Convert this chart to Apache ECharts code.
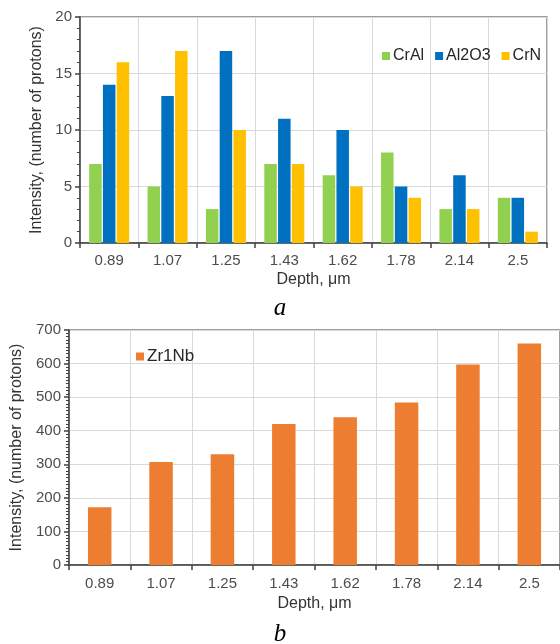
<!DOCTYPE html>
<html>
<head>
<meta charset="utf-8">
<script src="https://cdn.jsdelivr.net/npm/echarts@6/dist/echarts.min.js"></script>
<style>
html,body{margin:0;padding:0;background:#fff;}
#c{width:560px;height:644px;}
</style>
</head>
<body>
<div id="c"></div>
<script>
var categories = ['0.89','1.07','1.25','1.43','1.62','1.78','2.14','2.5'];
var crAl  = [7, 5, 3, 7, 6, 8, 3, 4];
var al2o3 = [14, 13, 17, 11, 10, 5, 6, 4];
var crN   = [16, 17, 10, 7, 5, 4, 3, 1];
var zr1nb = [172, 307, 330, 420, 440, 484, 597, 660];

var FONT = '"Liberation Sans", Arial, sans-serif';
var axisGray = '#4d4d4d';
var gridGray = '#d9d9d9';

var chart = echarts.init(document.getElementById('c'), null, {renderer:'canvas'});

function xAx(gridIndex, fs, nameGap, labelMargin){
  return {
    type:'category', gridIndex:gridIndex, data:categories,
    name:'Depth, μm', nameLocation:'middle', nameGap:nameGap,
    nameTextStyle:{color:'#333', fontSize:16, fontFamily:FONT},
    axisLine:{lineStyle:{color:'#404040', width:1.5}},
    axisTick:{show:true, length:5, inside:false, lineStyle:{color:'#404040', width:1.5}},
    axisLabel:{color:axisGray, fontSize:fs, fontFamily:FONT, margin:labelMargin},
    splitLine:{show:true, lineStyle:{color:gridGray, width:1}}
  };
}
function yAx(gridIndex, max, interval, minorSplit, fs, nameGap){
  return {
    type:'value', gridIndex:gridIndex, min:0, max:max, interval:interval,
    name:'Intensity, (number of protons)', nameLocation:'middle', nameGap:nameGap,
    nameRotate:90,
    nameTextStyle:{color:'#333', fontSize:16, fontFamily:FONT},
    axisLine:{show:true, lineStyle:{color:'#404040', width:1.5}},
    axisTick:{show:true, length:5, lineStyle:{color:'#404040', width:1.5}},
    minorTick:{show:true, splitNumber:minorSplit, length:3, lineStyle:{color:'#404040', width:1}},
    axisLabel:{color:axisGray, fontSize:fs, fontFamily:FONT, margin:8},
    splitLine:{show:true, lineStyle:{color:gridGray, width:1}}
  };
}

chart.setOption({
  animation:false,
  backgroundColor:'#fff',
  grid:[
    {left:80, right:13, top:17, bottom:401, show:true, borderColor:'#7f7f7f', borderWidth:1.5,
     containLabel:false, outerBoundsMode:'none'},
    {left:69, right:0, top:330, bottom:79, show:true, borderColor:'#7f7f7f', borderWidth:1.5,
     containLabel:false, outerBoundsMode:'none'}
  ],
  legend:[
    {data:['CrAl','Al2O3','CrN'], left:377, top:43, itemWidth:8, itemHeight:8, itemGap:11,
     icon:'rect', textStyle:{fontSize:16, color:'#262626', fontFamily:FONT, padding:[0,0,0,-2]}},
    {data:['Zr1Nb'], left:131, top:343, itemWidth:8, itemHeight:8, icon:'rect',
     textStyle:{fontSize:17, color:'#262626', fontFamily:FONT, padding:[0,0,0,-2]}}
  ],
  xAxis:[ xAx(0, 15, 29, 10), xAx(1, 15, 31, 11) ],
  yAxis:[ yAx(0, 20, 5, 5, 15, 35), yAx(1, 700, 100, 10, 15, 42) ],
  series:[
    {name:'CrAl', type:'bar', xAxisIndex:0, yAxisIndex:0, data:crAl, barWidth:12.5, barGap:'10%',
     itemStyle:{color:'#92D050'}},
    {name:'Al2O3', type:'bar', xAxisIndex:0, yAxisIndex:0, data:al2o3, barWidth:12.5, barGap:'10%',
     itemStyle:{color:'#0070C0'}},
    {name:'CrN', type:'bar', xAxisIndex:0, yAxisIndex:0, data:crN, barWidth:12.5, barGap:'10%',
     itemStyle:{color:'#FFC000'}},
    {name:'Zr1Nb', type:'bar', xAxisIndex:1, yAxisIndex:1, data:zr1nb, barWidth:23.5,
     itemStyle:{color:'#ED7D31'}}
  ],
  graphic:[
    {type:'text', left:'center', top:296, style:{text:'a', font:'italic 25px "Liberation Serif", "DejaVu Serif", serif', fill:'#000'}},
    {type:'text', left:'center', top:622, style:{text:'b', font:'italic 25px "Liberation Serif", "DejaVu Serif", serif', fill:'#000'}}
  ]
});
</script>
</body>
</html>
